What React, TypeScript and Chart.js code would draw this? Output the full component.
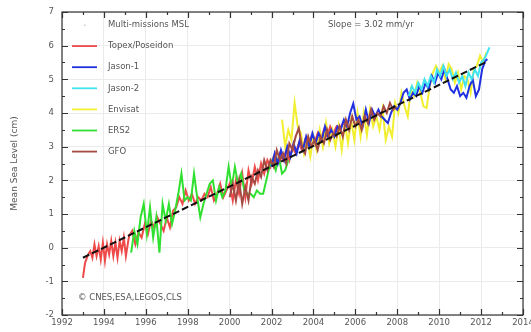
import React, { useEffect, useRef } from "react";
import { Chart, registerables } from "chart.js";

Chart.register(...registerables);

const X_MIN = 1992;
const X_MAX = 2014;
const Y_MIN = -2;
const Y_MAX = 7;

const topexYears = [1993.0,1993.1,1993.25,1993.35,1993.45,1993.55,1993.65,1993.75,1993.85,1993.95,1994.05,1994.15,1994.25,1994.35,1994.45,1994.55,1994.65,1994.75,1994.85,1994.95,1995.05,1995.2,1995.35,1995.5,1995.65,1995.8,1995.95,1996.1,1996.25,1996.4,1996.55,1996.7,1996.85,1997.0,1997.15,1997.3,1997.45,1997.6,1997.75,1997.9,1998.05,1998.2,1998.35,1998.5,1998.65,1998.8,1998.95,1999.1,1999.25,1999.4,1999.55,1999.7,1999.85,2000.0,2000.15,2000.3,2000.45,2000.6,2000.75,2000.9,2001.05,2001.2,2001.35,2001.5,2001.65,2001.8,2001.95,2002.1,2002.25,2002.4,2002.55,2002.7,2002.85,2003.0,2003.15,2003.3,2003.45,2003.6,2003.75,2003.9,2004.05,2004.2,2004.35,2004.5,2004.65,2004.8,2004.95,2005.1,2005.25,2005.4,2005.55,2005.7];
const topexValues = [-0.9,-0.45,-0.2,-0.1,-0.3,0.1,-0.25,0.05,-0.35,0.15,-0.4,0.1,-0.2,0.2,-0.25,0.15,-0.3,0.2,-0.1,0.3,-0.25,0.35,0.5,0.1,0.45,0.3,0.7,0.4,0.8,0.6,0.9,0.7,0.5,0.9,0.6,1.1,1.2,1.5,1.3,1.7,1.4,1.6,1.3,1.5,1.4,1.6,1.5,1.8,1.4,1.6,1.9,1.5,1.7,1.9,1.4,2.0,1.6,2.2,1.5,2.3,1.9,2.4,2.0,2.5,2.2,2.6,2.4,2.7,2.5,2.8,2.6,2.9,2.6,3.0,2.8,3.1,2.9,3.2,3.0,3.3,3.1,3.4,3.2,3.5,3.3,3.6,3.4,3.6,3.5,3.7,3.6,3.8];

const ers2Years = [1995.3,1995.45,1995.6,1995.75,1995.9,1996.05,1996.2,1996.35,1996.5,1996.65,1996.8,1996.95,1997.1,1997.25,1997.4,1997.55,1997.7,1997.85,1998.0,1998.15,1998.3,1998.45,1998.6,1998.75,1998.9,1999.05,1999.2,1999.35,1999.5,1999.65,1999.8,1999.95,2000.1,2000.25,2000.4,2000.55,2000.7,2000.85,2001.0,2001.15,2001.3,2001.45,2001.6,2001.75,2001.9,2002.05,2002.2,2002.35,2002.5,2002.65,2002.8];
const ers2Values = [-0.15,0.5,0.1,0.9,1.3,0.4,1.2,0.3,0.9,-0.15,1.3,0.8,1.3,0.7,1.1,1.6,2.2,1.4,1.5,1.4,2.2,1.5,0.9,1.3,1.6,1.9,2.0,1.4,1.8,1.5,1.7,2.4,1.8,2.4,1.9,2.2,1.7,1.6,1.6,1.5,1.7,1.6,1.6,2.0,2.4,2.6,2.3,2.7,2.2,2.3,2.6];

const gfoYears = [2000.0,2000.15,2000.3,2000.45,2000.6,2000.75,2000.9,2001.05,2001.2,2001.35,2001.5,2001.65,2001.8,2001.95,2002.1,2002.25,2002.4,2002.55,2002.7,2002.85,2003.0,2003.15,2003.3,2003.45,2003.6,2003.75,2003.9,2004.05,2004.2,2004.35,2004.5,2004.65,2004.8,2004.95,2005.1,2005.25,2005.4,2005.55,2005.7,2005.85,2006.0,2006.15,2006.3,2006.45,2006.6,2006.75,2006.9,2007.05,2007.2,2007.35,2007.5,2007.65,2007.8,2007.95];
const gfoValues = [1.5,1.9,1.4,2.0,1.3,1.8,1.4,2.1,1.9,2.3,2.1,2.6,2.3,2.6,2.4,2.9,2.6,2.8,2.5,3.1,2.9,3.3,3.55,3.0,2.8,3.3,3.0,3.2,2.9,3.3,3.1,3.5,3.2,3.4,3.3,3.6,3.3,3.8,3.5,3.9,3.6,3.8,3.5,3.9,3.7,4.1,3.8,4.0,3.9,4.2,4.0,4.3,4.1,4.2];

const jason1Years = [2002.0,2002.15,2002.3,2002.45,2002.6,2002.75,2002.9,2003.05,2003.2,2003.35,2003.5,2003.65,2003.8,2003.95,2004.1,2004.25,2004.4,2004.55,2004.7,2004.85,2005.0,2005.15,2005.3,2005.45,2005.6,2005.75,2005.9,2006.05,2006.2,2006.35,2006.5,2006.65,2006.8,2006.95,2007.1,2007.25,2007.4,2007.55,2007.7,2007.85,2008.0,2008.15,2008.3,2008.45,2008.6,2008.75,2008.9,2009.05,2009.2,2009.35,2009.5,2009.65,2009.8,2009.95,2010.1,2010.25,2010.4,2010.55,2010.7,2010.85,2011.0,2011.15,2011.3,2011.45,2011.6,2011.75,2011.9,2012.05,2012.2,2012.3];
const jason1Values = [2.4,2.8,2.5,2.9,2.6,3.0,2.7,3.1,2.8,3.2,2.9,3.3,3.0,3.4,3.1,3.4,3.2,3.6,3.3,3.5,3.3,3.6,3.5,3.8,3.6,4.0,4.28,3.8,3.9,3.6,4.1,3.7,4.1,3.9,4.1,3.9,3.8,3.7,4.0,4.2,4.1,4.3,4.6,4.7,4.4,4.6,4.5,4.8,4.6,4.9,4.7,5.1,4.9,5.2,5.0,5.3,5.0,4.7,4.6,4.8,4.5,4.6,4.45,4.8,5.0,4.5,4.7,5.3,5.55,5.6];

const envisatYears = [2002.5,2002.65,2002.8,2002.95,2003.1,2003.25,2003.4,2003.55,2003.7,2003.85,2004.0,2004.15,2004.3,2004.45,2004.6,2004.75,2004.9,2005.05,2005.2,2005.35,2005.5,2005.65,2005.8,2005.95,2006.1,2006.25,2006.4,2006.55,2006.7,2006.85,2007.0,2007.15,2007.3,2007.45,2007.6,2007.75,2007.9,2008.05,2008.2,2008.35,2008.5,2008.65,2008.8,2008.95,2009.1,2009.25,2009.4,2009.55,2009.7,2009.85,2010.0,2010.15,2010.3,2010.45,2010.6,2010.75,2010.9,2011.05,2011.2,2011.35,2011.5,2011.65,2011.8,2011.95,2012.1,2012.25];
const envisatValues = [3.8,3.0,3.5,3.2,4.3,3.6,3.4,2.8,3.2,2.7,3.3,2.9,3.5,3.0,3.7,3.1,3.5,3.0,3.6,2.9,3.7,3.1,3.8,3.2,4.0,3.3,4.0,3.35,4.1,3.6,3.9,3.5,4.1,3.2,3.6,3.3,4.3,4.0,4.6,4.2,3.9,4.7,4.5,4.9,4.6,4.2,4.15,4.8,5.2,5.4,5.2,5.4,5.0,5.45,5.3,4.9,5.2,4.7,5.1,5.0,4.6,5.3,5.4,5.7,5.5,5.8];

const jason2Years = [2008.55,2008.7,2008.85,2009.0,2009.15,2009.3,2009.45,2009.6,2009.75,2009.9,2010.05,2010.2,2010.35,2010.5,2010.65,2010.8,2010.95,2011.1,2011.25,2011.4,2011.55,2011.7,2011.85,2012.0,2012.15,2012.3,2012.4];
const jason2Values = [4.5,4.8,4.6,4.9,4.7,5.0,4.8,5.1,4.9,5.3,5.1,5.4,5.1,5.3,5.0,5.2,4.9,5.1,4.8,5.2,5.0,5.3,5.1,5.5,5.6,5.8,5.95];

const trendYears = [1993.0, 2012.3];
const trendValues = [-0.3, 5.53];

const legendLabels = ["Multi-missions MSL", "Topex/Poseidon", "Jason-1", "Jason-2", "Envisat", "ERS2", "GFO"];
const legendColors = ["#cccccc", "#ee4a4a", "#2030e0", "#40e4f0", "#f2ee30", "#30e030", "#a44a42"];

const slopeText = "Slope = 3.02 mm/yr";
const creditText = "\u00a9 CNES,ESA,LEGOS,CLS";
const yTitle = "Mean Sea Level (cm)";

const pts = (xs: number[], ys: number[]) => xs.map((x, i) => ({ x, y: ys[i] }));

const FONT = "'DejaVu Sans', sans-serif";

const framePlugin = {
  id: "frame",
  afterDatasetsDraw(chart: any) {
    const { ctx, chartArea, scales } = chart;
    const { left, right, top, bottom } = chartArea;
    const xs = scales.x;
    const ys = scales.y;
    ctx.save();
    ctx.strokeStyle = "#333";
    ctx.lineWidth = 1.2;
    ctx.strokeRect(left, top, right - left, bottom - top);
    ctx.beginPath();
    for (let v = X_MIN; v <= X_MAX; v += 1) {
      const px = Math.round(xs.getPixelForValue(v)) + 0.5;
      const len = v % 2 === 0 ? 6 : 3;
      ctx.moveTo(px, bottom);
      ctx.lineTo(px, bottom - len);
      ctx.moveTo(px, top);
      ctx.lineTo(px, top + len);
    }
    for (let v = Y_MIN; v <= Y_MAX; v += 0.5) {
      const py = Math.round(ys.getPixelForValue(v)) + 0.5;
      const len = Number.isInteger(v) ? 6 : 3;
      ctx.moveTo(left, py);
      ctx.lineTo(left + len, py);
      ctx.moveTo(right, py);
      ctx.lineTo(right - len, py);
    }
    ctx.stroke();
    ctx.restore();
  },
  afterDraw(chart: any) {
    const { ctx, chartArea } = chart;
    const { left, right, top, bottom } = chartArea;
    ctx.save();
    ctx.font = "8.5px " + FONT;
    ctx.fillStyle = "#555";
    ctx.textBaseline = "middle";
    legendLabels.forEach((label, i) => {
      const yy = top + 13 + i * 21.1;
      if (i === 0) {
        ctx.fillStyle = legendColors[0];
        ctx.fillRect(left + 22, yy - 0.5, 1.5, 1.5);
      } else {
        ctx.strokeStyle = legendColors[i];
        ctx.lineWidth = 1.8;
        ctx.beginPath();
        ctx.moveTo(left + 10, yy);
        ctx.lineTo(left + 35, yy);
        ctx.stroke();
      }
      ctx.fillStyle = "#555";
      ctx.textAlign = "left";
      ctx.fillText(label, left + 46, yy);
    });
    ctx.textAlign = "center";
    ctx.fillText(slopeText, left + (right - left) * 0.67, top + 13);
    ctx.textAlign = "left";
    ctx.fillText(creditText, left + 16, bottom - 17);
    ctx.restore();
  },
};

export default function App() {
  const ref = useRef<HTMLCanvasElement | null>(null);
  useEffect(() => {
    document.body.style.margin = "0";
    const canvas = ref.current;
    if (!canvas) return;
    const line = (label: string, xs: number[], ys: number[], color: string, order: number) => ({
      label,
      data: pts(xs, ys),
      borderColor: color,
      backgroundColor: color,
      borderWidth: 2,
      pointRadius: 0,
      fill: false,
      tension: 0,
      order,
    });
    const chart = new Chart(canvas, {
      type: "line",
      data: {
        datasets: [
          {
            label: "Trend",
            data: pts(trendYears, trendValues),
            borderColor: "#111",
            borderWidth: 2,
            borderDash: [7, 3],
            pointRadius: 0,
            fill: false,
            order: 0,
          },
          line("Jason-2", jason2Years, jason2Values, legendColors[3], 1),
          line("GFO", gfoYears, gfoValues, legendColors[6], 2),
          line("Jason-1", jason1Years, jason1Values, legendColors[2], 3),
          line("Envisat", envisatYears, envisatValues, legendColors[4], 4),
          line("ERS2", ers2Years, ers2Values, legendColors[5], 5),
          line("Topex/Poseidon", topexYears, topexValues, legendColors[1], 6),
        ] as any,
      },
      options: {
        animation: false,
        responsive: false,
        maintainAspectRatio: false,
        devicePixelRatio: 1,
        layout: { padding: { top: 12, right: 8, left: 0, bottom: 0 } },
        plugins: { legend: { display: false }, tooltip: { enabled: false } },
        scales: {
          x: {
            type: "linear",
            min: X_MIN,
            max: X_MAX,
            ticks: {
              stepSize: 2,
              callback: (v: any) => String(v),
              color: "#555",
              font: { family: FONT, size: 8.5 },
              maxRotation: 0,
              padding: 3,
            },
            grid: { color: "#ebebeb", drawTicks: false },
            border: { display: false },
            afterFit: (s: any) => { s.height = 17; s.paddingLeft = 0; s.paddingRight = 0; },
          },
          y: {
            type: "linear",
            min: Y_MIN,
            max: Y_MAX,
            ticks: {
              stepSize: 1,
              color: "#555",
              font: { family: FONT, size: 8.5 },
              padding: 8,
            },
            grid: { color: "#ebebeb", drawTicks: false },
            border: { display: false },
            title: {
              display: true,
              text: yTitle,
              color: "#555",
              font: { family: FONT, size: 9 },
              padding: { top: 9, bottom: 0 },
            },
            afterFit: (s: any) => { s.width = 62; s.paddingTop = 0; s.paddingBottom = 0; },
          },
        },
      } as any,
      plugins: [framePlugin],
    });
    return () => chart.destroy();
  }, []);
  return <canvas ref={ref} width={531} height={332} style={{ display: "block" }} />;
}
